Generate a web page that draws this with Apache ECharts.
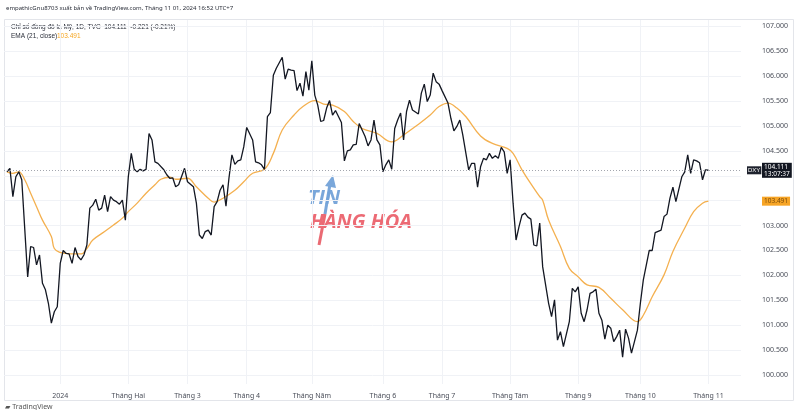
<!DOCTYPE html>
<html>
<head>
<meta charset="utf-8">
<script src="https://cdn.jsdelivr.net/npm/echarts@6/dist/echarts.min.js"></script>
<style>html,body{margin:0;padding:0;background:#fff}#c{width:800px;height:410px}</style>
</head>
<body>
<div id="c"></div>
<script>
// Session index: 0 = first session of 2024 (Jan 2)
const monthTickSessions = [0, 23, 43, 63, 85, 109, 129, 152, 175, 196, 219];
const monthLabels = ['2024', 'Tháng Hai', 'Tháng 3', 'Tháng 4', 'Tháng Năm', 'Tháng 6', 'Tháng 7', 'Tháng Tám', 'Tháng 9', 'Tháng 10', 'Tháng 11'];
const priceTicks = [100, 100.5, 101, 101.5, 102, 102.5, 103, 103.5, 104, 104.5, 105, 105.5, 106, 106.5, 107];

const closeDays = [-18,-17,-16,-15,-14,-13,-11,-10,-9,-8,-7,-6,-5,-4,-3,-2,-1,0,1,2,3,4,5,6,7,8,9,10,11,12,13,14,15,16,17,18,19,20,21,22,23,24,25,26,27,28,29,30,31,32,33,35,36,37,38,39,40,42,43,45,46,47,48,49,50,51,52,53,54,55,56,57,58,59,60,61,62,63,65,66,67,68,69,70,71,72,73,75,76,77,78,79,80,81,82,83,84,85,86,87,88,89,90,91,92,93,94,95,96,97,98,99,100,101,103,104,105,106,107,108,109,110,111,112,113,114,115,116,117,118,119,121,122,123,124,125,126,127,128,129,131,132,133,134,135,136,138,139,140,141,142,143,144,145,146,147,148,149,150,151,152,153,154,155,156,157,158,159,160,161,162,163,165,166,167,168,169,170,172,173,174,175,176,177,178,179,180,181,182,183,184,185,186,187,188,189,190,191,192,193,195,196,197,199,200,201,203,204,205,206,207,208,210,211,212,213,214,215,216,217,218,219];
const closeValues = [104.08,104.15,103.58,103.98,104.08,103.92,101.97,102.58,102.56,102.21,102.41,101.84,101.71,101.44,101.04,101.27,101.37,102.24,102.50,102.44,102.43,102.24,102.56,102.38,102.31,102.41,102.61,103.35,103.41,103.53,103.31,103.35,103.61,103.28,103.58,103.51,103.48,103.43,103.51,103.11,103.98,104.45,104.13,104.08,104.13,104.10,104.13,104.85,104.72,104.28,104.25,104.12,104.02,103.95,103.96,103.78,103.82,104.15,103.88,103.78,103.45,102.81,102.74,102.88,102.91,102.81,103.38,103.48,103.71,103.82,103.39,103.95,104.42,104.23,104.30,104.32,104.58,104.97,104.72,104.28,104.26,104.22,104.13,105.19,105.27,106.02,106.16,106.38,105.94,106.14,106.12,106.11,105.71,105.86,105.60,106.09,105.72,106.31,105.62,105.42,105.09,105.11,105.36,105.51,105.22,105.31,105.19,105.07,104.30,104.50,104.52,104.62,104.63,105.05,104.79,104.60,104.72,105.12,104.72,104.62,104.08,104.22,104.32,104.13,104.95,105.12,105.26,104.72,105.29,105.52,105.32,105.24,105.66,105.84,105.49,105.62,106.06,105.89,105.84,105.71,105.46,105.15,104.90,104.99,105.12,104.82,104.12,104.25,104.25,103.77,104.18,104.35,104.32,104.45,104.35,104.40,104.35,104.57,104.48,104.05,104.32,103.45,102.71,102.98,103.21,103.25,103.17,103.13,102.61,102.59,103.05,102.17,101.44,101.17,101.51,100.70,100.87,100.57,101.07,101.74,101.67,101.77,101.24,101.07,101.31,101.64,101.67,101.72,101.24,101.10,100.72,101.00,100.94,100.67,100.77,100.90,100.36,100.92,100.74,100.44,100.90,101.44,101.91,102.50,102.50,102.86,102.91,103.18,103.23,103.55,103.77,103.48,103.98,104.08,104.42,104.05,104.32,104.30,104.26,103.92,104.12,104.111];

const emaDays = [-18,-16,-14,-12,-10,-8,-6,-3,-2,0,2,4,7,9,11,15,18,21,23,26,29,32,34,37,39,43,46,50,52,55,59,62,65,69,72,75,79,82,86,89,92,96,99,102,107,112,116,120,125,128,131,134,137,142,146,151,153,156,160,162,163,165,169,172,175,178,182,186,190,195,197,200,204,207,211,214,217,219];
const emaValues = [104.08,104.05,104.08,103.92,103.65,103.38,103.11,102.78,102.54,102.46,102.44,102.43,102.43,102.54,102.71,102.88,103.01,103.15,103.28,103.45,103.65,103.82,103.93,103.97,103.93,103.95,103.78,103.55,103.47,103.55,103.71,103.88,104.05,104.13,104.45,104.92,105.22,105.39,105.51,105.44,105.42,105.29,105.09,104.95,104.85,104.68,104.82,104.99,105.22,105.39,105.46,105.36,105.19,104.80,104.65,104.55,104.45,104.12,103.75,103.58,103.51,103.11,102.58,102.14,101.97,101.81,101.76,101.54,101.31,101.07,101.20,101.57,102.01,102.48,102.95,103.28,103.45,103.491];

const lastClose = 104.111;
const lastEma = 103.491;

const closeData = closeDays.map((d, i) => [d, closeValues[i]]);
const emaData = emaDays.map((d, i) => [d, emaValues[i]]);

const FONT = '"Noto Sans", "DejaVu Sans", sans-serif';
const LFONT = '"Liberation Sans", "Noto Sans", sans-serif';
const HIDDEN_LINE = {width: 0, color: 'rgba(0,0,0,0)'};
const chart = echarts.init(document.getElementById('c'), null, {renderer: 'canvas'});

chart.setOption({
  animation: false,
  backgroundColor: '#ffffff',
  grid: {left: 4, right: 59, top: 20, bottom: 26, containLabel: false},
  xAxis: {
    type: 'value', min: -19, max: 230,
    axisLine: {show: false},
    axisTick: {show: false, customValues: monthTickSessions},
    axisLabel: {
      customValues: monthTickSessions, margin: 8,
      fontSize: 7, color: '#4a4e59', fontFamily: FONT,
      formatter: v => monthLabels[monthTickSessions.indexOf(v)] || ''
    },
    splitLine: {show: true, lineStyle: {color: '#f0f2f6', width: 1}}
  },
  yAxis: {
    type: 'value', position: 'right', min: 99.819, max: 107.128,
    axisLine: {show: false},
    axisTick: {show: false, customValues: priceTicks},
    axisLabel: {
      customValues: priceTicks, margin: 21, fontSize: 7, color: '#4a4e59', fontFamily: FONT,
      formatter: v => (Math.abs(v - 104) < 1e-6 || Math.abs(v - 103.5) < 1e-6) ? '' : v.toFixed(3)
    },
    splitLine: {show: true, lineStyle: {color: '#f0f2f6', width: 1}}
  },
  series: [
    {
      name: 'EMA', type: 'line', data: emaData, smooth: 0.4, showSymbol: false,
      lineStyle: {color: '#f4b04f', width: 1.3}, z: 2,
      markLine: {
        silent: true, symbol: 'none',
        data: [{yAxis: lastEma, lineStyle: HIDDEN_LINE}],
        label: {
          position: 'end', distance: 21, formatter: lastEma.toFixed(3),
          backgroundColor: '#f7a526', color: '#7a4a08', fontSize: 6.5, fontFamily: FONT,
          padding: [1, 2, 1, 2]
        }
      }
    },
    {
      name: 'DXY', type: 'line', data: closeData, showSymbol: false,
      lineStyle: {color: '#131722', width: 1.3}, z: 3,
      markLine: {
        silent: true, symbol: 'none',
        data: [
          {yAxis: lastClose, lineStyle: {color: '#a3a6ae', type: [1, 2], width: 1},
           label: {position: 'end', distance: 6, formatter: 'DXY', backgroundColor: '#1e222d',
                   color: '#ffffff', fontSize: 6, fontFamily: LFONT, padding: [1, 1, 1, 1]}},
          {yAxis: lastClose, lineStyle: HIDDEN_LINE,
           label: {position: 'end', distance: 21, formatter: lastClose.toFixed(3) + '\n13:07:37',
                   backgroundColor: '#131722', color: '#ffffff', fontSize: 6.5, lineHeight: 7,
                   fontFamily: FONT, padding: [1, 2, 0, 2]}}
        ]
      }
    }
  ],
  graphic: [
    {type: 'rect', shape: {x: 4.5, y: 19.5, width: 789, height: 381}, style: {fill: 'none', stroke: '#e3e5ea', lineWidth: 1}, silent: true, z: -1},
    {type: 'text', left: 6, top: 5, style: {text: 'empathicGnu8703 xuất bản về TradingView.com, Tháng 11 01, 2024 16:52 UTC+7', fontSize: 6, fill: '#2a2e39', fontFamily: FONT}},
    {type: 'text', left: 11, top: 24, style: {text: 'Chỉ số đồng đô la Mỹ, 1D, TVC  104.111  -0.221 (-0.21%)', fontSize: 6.5, fill: '#2a2e39', fontFamily: LFONT}},
    {type: 'text', left: 11, top: 33, style: {text: 'EMA (21, close)', fontSize: 6.5, fill: '#2a2e39', fontFamily: LFONT}},
    {type: 'text', left: 57, top: 33, style: {text: '103.491', fontSize: 6.5, fill: '#f5a623', fontFamily: LFONT}},
    {type: 'text', left: 5, top: 403, style: {text: '▰ TradingView', fontSize: 7, fill: '#555', fontFamily: FONT}},
    // watermark
    {type: 'group', silent: true, z: 10, children: [
      {type: 'polyline', shape: {points: [[319, 245], [325, 214]]}, style: {stroke: '#ea6a73', lineWidth: 3}},
      {type: 'polyline', shape: {points: [[325, 214], [330, 184]]}, style: {stroke: '#7aa7da', lineWidth: 3}},
      {type: 'polygon', shape: {points: [[325, 186], [333, 175], [336, 188]]}, style: {fill: '#7aa7da'}},
      {type: 'text', x: 308, y: 188, style: {text: 'TIN', fontSize: 20, fontWeight: 'bold', fontStyle: 'italic', fill: '#73a2d8', fontFamily: '"Open Sans", sans-serif', opacity: 0.95}},
      {type: 'text', x: 310, y: 212, style: {text: 'HÀNG HÓA', fontSize: 20, fontWeight: 'bold', fontStyle: 'italic', fill: '#ec6a74', fontFamily: '"Open Sans", sans-serif', shadowBlur: 4, shadowColor: 'rgba(120,60,60,0.4)', shadowOffsetX: 2, shadowOffsetY: 2}}
    ]}
  ]
});
</script>
</body>
</html>
